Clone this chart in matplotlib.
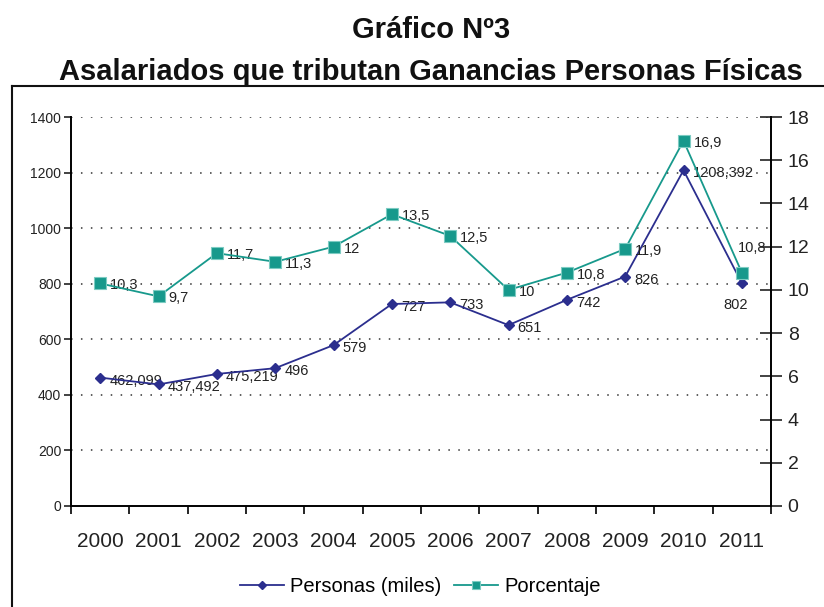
import matplotlib.pyplot as plt
from matplotlib.lines import Line2D

plt.rcParams['font.family'] = ['Liberation Sans', 'DejaVu Sans']

anios = ['2000', '2001', '2002', '2003', '2004', '2005', '2006', '2007', '2008', '2009', '2010', '2011']
personas = [462.099, 437.492, 475.219, 496, 579, 727, 733, 651, 742, 826, 1208.392, 802]
personas_txt = ['462,099', '437,492', '475,219', '496', '579', '727', '733', '651', '742', '826', '1208,392', '802']
porcentaje = [10.3, 9.7, 11.7, 11.3, 12, 13.5, 12.5, 10, 10.8, 11.9, 16.9, 10.8]
porcentaje_txt = ['10,3', '9,7', '11,7', '11,3', '12', '13,5', '12,5', '10', '10,8', '11,9', '16,9', '10,8']

azul = '#2B2E8E'
verde = '#17998C'

fig = plt.figure(figsize=(8.24, 6.07), dpi=100)
ax = fig.add_axes([0.0862, 0.1664, 0.8495, 0.6408])
ax2 = ax.twinx()

x = list(range(len(anios)))

# eje izquierdo: personas
l1, = ax.plot(x, personas, color=azul, lw=1.3, marker='D', ms=5.5, mfc=azul, mec=azul,
              label='Personas (miles)', zorder=4)
ax.set_ylim(0, 1400)
ax.set_yticks(range(0, 1401, 200))
ax.set_xlim(-0.5, len(anios) - 0.5)
ax.set_xticks(x)
ax.set_xticklabels(anios, fontsize=15)
ax.set_xticks([i - 0.5 for i in range(len(anios) + 1)], minor=True)
ax.tick_params(axis='x', which='major', length=0, pad=19, colors='#222222')
ax.tick_params(axis='x', which='minor', length=6, width=1.2, direction='out')
ax.tick_params(axis='y', labelsize=10, length=5, width=1.2, direction='out', pad=2, colors='#222222')
for g in range(200, 1401, 200):
    ax.axhline(g, color='#333333', lw=1.1, ls=(0, (1, 5.5)), zorder=1)
for s in ['top']:
    ax.spines[s].set_visible(False)
ax.spines['left'].set_linewidth(1.4)
ax.spines['bottom'].set_linewidth(1.4)
ax.spines['right'].set_visible(False)

# eje derecho: porcentaje
l2, = ax2.plot(x, porcentaje, color=verde, lw=1.3, marker='s', ms=8, mfc=verde, mec='#7CCBC2',
               mew=0.8, label='Porcentaje', zorder=4)
ax2.set_ylim(0, 18)
ax2.set_yticks(range(0, 19, 2))
ax2.tick_params(axis='y', labelsize=14, length=16, width=1.2, direction='inout', pad=4, colors='#222222')
ax2.spines['top'].set_visible(False)
ax2.spines['left'].set_visible(False)
ax2.spines['bottom'].set_visible(False)
ax2.spines['right'].set_linewidth(1.4)

# etiquetas de datos
for i, (v, t) in enumerate(zip(personas, personas_txt)):
    if i == len(anios) - 1:
        ax.annotate(t, (i, v), xytext=(-6, -22), textcoords='offset pixels',
                    ha='center', va='center', fontsize=10.5, color='#222222')
    else:
        ax.annotate(t, (i, v), xytext=(9, -3), textcoords='offset pixels',
                    ha='left', va='center', fontsize=10.5, color='#222222')
for i, (v, t) in enumerate(zip(porcentaje, porcentaje_txt)):
    if i == len(anios) - 1:
        ax2.annotate(t, (i, v), xytext=(10, 25), textcoords='offset pixels',
                     ha='center', va='center', fontsize=10.5, color='#222222')
    else:
        ax2.annotate(t, (i, v), xytext=(10, -2), textcoords='offset pixels',
                     ha='left', va='center', fontsize=10.5, color='#222222')

# titulo
fig.text(0.523, 0.951, 'Gráfico Nº3', ha='center', va='center', fontsize=21, fontweight='bold', color='#111111')
fig.text(0.523, 0.881, 'Asalariados que tributan Ganancias Personas Físicas', ha='center', va='center',
         fontsize=21, fontweight='bold', color='#111111')

# marco
fig.add_artist(Line2D([12 / 824, 1.0], [1 - 86 / 607, 1 - 86 / 607], transform=fig.transFigure, color='#111111', lw=1.5))
fig.add_artist(Line2D([12 / 824, 12 / 824], [0, 1 - 86 / 607], transform=fig.transFigure, color='#111111', lw=1.5))

fig.legend(handles=[l1, l2], loc='center', bbox_to_anchor=(0.51, 0.033), ncol=2, frameon=False,
           fontsize=14.5, handlelength=2.2, handletextpad=0.3, columnspacing=0.6, markerscale=0.8)

fig.savefig('out.png', dpi=100)
